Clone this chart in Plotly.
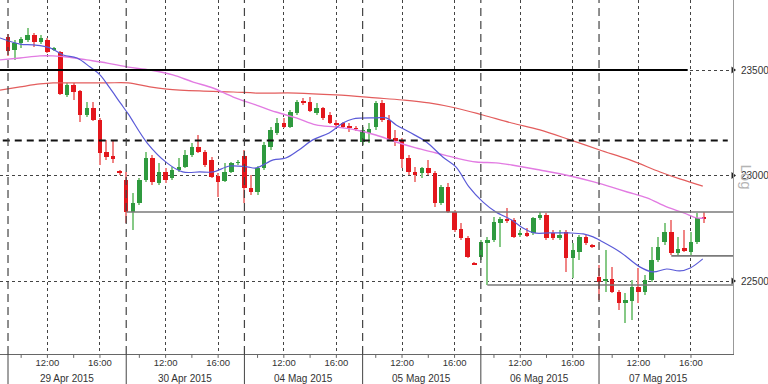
import plotly.graph_objects as go

# ---------------- data ----------------
days = ["29 Apr 2015", "30 Apr 2015", "04 Mag 2015", "05 Mag 2015", "06 Mag 2015", "07 Mag 2015"]
bars_per_day = [18, 18, 18, 18, 18, 17]      # 30-minute bars from 09:00
slots_per_day = 18
time_labels = ["12:00", "16:00"]
time_slots = [6, 14]                          # slot of 12:00 and 16:00 inside a day

open_ = [
    23657, 23595, 23628, 23642, 23666, 23633, 23642, 23595, 23586, 23382, 23429, 23401, 23287, 23320, 23263, 23112, 23093, 23017,
    22979, 22827, 22870, 22979, 23083, 22965, 23017, 22988, 23026, 23041, 23097, 23135, 23112, 23074, 22998, 22974, 23017, 23060,
    23093, 22941, 22922, 23036, 23135, 23202, 23249, 23230, 23296, 23353, 23349, 23296, 23320, 23287, 23249, 23249, 23235, 23225,
    23159, 23202, 23230, 23344, 23263, 23178, 23169, 23083, 23017, 23012, 23036, 23012, 22870, 22946, 22827, 22747, 22704, 22585,
    22614, 22680, 22695, 22775, 22794, 22789, 22718, 22728, 22728, 22799, 22813, 22728, 22704, 22733, 22609, 22638, 22709, 22666,
    22519, 22500, 22510, 22448, 22396, 22406, 22472, 22448, 22505, 22600, 22685, 22733, 22633, 22657, 22638, 22685, 22804,
]
high = [
    23671, 23642, 23657, 23699, 23676, 23666, 23652, 23609, 23590, 23439, 23439, 23405, 23349, 23349, 23273, 23169, 23169, 23026,
    23017, 22917, 22988, 23112, 23097, 23060, 23036, 23041, 23083, 23121, 23154, 23192, 23121, 23088, 23012, 23060, 23064, 23074,
    23121, 23003, 23045, 23159, 23230, 23273, 23273, 23311, 23358, 23368, 23372, 23344, 23325, 23301, 23263, 23254, 23249, 23235,
    23230, 23249, 23353, 23358, 23287, 23216, 23178, 23097, 23041, 23041, 23074, 23022, 22955, 22965, 22837, 22775, 22714, 22590,
    22695, 22709, 22804, 22804, 22846, 22799, 22742, 22752, 22804, 22827, 22823, 22742, 22742, 22742, 22680, 22718, 22718, 22676,
    22576, 22647, 22567, 22458, 22443, 22505, 22562, 22529, 22662, 22709, 22775, 22789, 22709, 22742, 22733, 22823, 22827,
]
low = [
    23567, 23548, 23605, 23633, 23609, 23623, 23581, 23590, 23382, 23372, 23358, 23254, 23278, 23259, 23050, 23074, 23060, 23003,
    22775, 22742, 22860, 22969, 22955, 22955, 22965, 22979, 23017, 23036, 23088, 23107, 23041, 22988, 22898, 22969, 23012, 23050,
    22870, 22908, 22908, 23026, 23121, 23192, 23225, 23225, 23287, 23334, 23301, 23287, 23263, 23244, 23230, 23225, 23206, 23211,
    23145, 23154, 23216, 23254, 23164, 23140, 23036, 23003, 22969, 22988, 23003, 22851, 22860, 22823, 22733, 22695, 22609, 22575,
    22600, 22481, 22685, 22662, 22775, 22704, 22709, 22709, 22718, 22789, 22695, 22695, 22695, 22543, 22515, 22600, 22671, 22657,
    22410, 22448, 22443, 22363, 22301, 22315, 22396, 22434, 22496, 22590, 22671, 22624, 22624, 22638, 22624, 22676, 22775,
]
close = [
    23590, 23628, 23647, 23666, 23633, 23652, 23586, 23600, 23387, 23429, 23396, 23287, 23320, 23263, 23107, 23088, 23078, 23012,
    22827, 22870, 22979, 23083, 22969, 23017, 22979, 23026, 23041, 23097, 23135, 23112, 23050, 22993, 22969, 23017, 23060, 23064,
    22941, 22922, 23036, 23145, 23216, 23249, 23230, 23301, 23349, 23344, 23306, 23320, 23273, 23249, 23240, 23230, 23225, 23221,
    23216, 23221, 23344, 23263, 23173, 23164, 23078, 23017, 23003, 23036, 23012, 22870, 22946, 22827, 22742, 22704, 22614, 22580,
    22685, 22695, 22780, 22794, 22785, 22709, 22728, 22714, 22799, 22813, 22704, 22704, 22718, 22609, 22647, 22709, 22680, 22662,
    22496, 22510, 22448, 22396, 22410, 22472, 22448, 22505, 22600, 22662, 22733, 22633, 22652, 22643, 22685, 22799, 22794,
]

# moving averages, read at sample points (x in bar-slot units)
ma_fast_x = [-1.22, 1.83, 3.81, 6.4, 8.4, 10.5, 12.5, 14.0, 15.5, 17.1, 18.3, 21.2, 24.2, 26.6, 29.2, 31.2, 33.8, 36.4, 37.8,
             40.4, 42.3, 44.3, 46.4, 48.9, 51.0, 52.5, 56.0, 57.6, 59.1, 61.1, 63.7, 66.2, 68.2, 70.2, 72.3, 74.3, 76.7,
             78.4, 80.1, 82.4, 85.4, 87.6, 89.1, 90.0, 93.2, 96.2, 98.2, 100.3, 102.3, 103.9, 105.8]
ma_fast_y = [23652, 23623, 23619, 23605, 23571, 23557, 23514, 23477, 23415, 23344, 23292, 23154, 23060, 23017, 23017, 23017, 23045, 23041, 23036,
             23074, 23083, 23121, 23169, 23202, 23249, 23268, 23273, 23273, 23240, 23206, 23159, 23088, 23041, 22946, 22875, 22827, 22789,
             22751, 22728, 22728, 22728, 22723, 22709, 22695, 22638, 22567, 22543, 22557, 22548, 22562, 22605]
ma_mid_x = [-1.22, 1.83, 4.87, 6.85, 9.0, 12.0, 15.1, 18.3, 21.6, 25.1, 28.2, 31.2, 34.3, 37.8, 40.8, 43.9, 46.9, 49.9, 53.0,
            56.0, 59.1, 62.1, 65.2, 68.2, 71.3, 74.3, 76.7, 81.0, 85.6, 89.2, 91.8, 94.3, 97.3, 100.3, 102.9, 104.9, 106.0]
ma_mid_y = [23548, 23557, 23567, 23567, 23562, 23548, 23533, 23514, 23500, 23477, 23443, 23415, 23372, 23334, 23301, 23273, 23240, 23230, 23216,
            23192, 23159, 23131, 23107, 23083, 23064, 23060, 23050, 23026, 22998, 22970, 22946, 22922, 22894, 22851, 22823, 22799, 22799]
ma_slow_x = [-1.22, 1.83, 4.87, 6.85, 11.0, 15.1, 18.3, 21.6, 24.2, 29.2, 34.3, 37.8, 43.9, 49.9, 56.0, 60.1, 64.1, 68.2,
             72.3, 76.7, 81.0, 85.6, 90.1, 94.7, 99.3, 102.3, 105.8]
ma_slow_y = [23405, 23420, 23434, 23439, 23439, 23439, 23439, 23420, 23410, 23401, 23396, 23391, 23391, 23382, 23368, 23358, 23344, 23320,
             23287, 23249, 23216, 23169, 23121, 23074, 23017, 22984, 22950]

level_solid = 23500
level_dashed = 23166
support_levels = [22827, 22619, 22481]
support_start = [18, 101, 73]           # bar slot where each line starts
y_ticks = [22500, 23000, 23500]

x_range = [-1.22, 110.4]
y_range = [22154, 23832]

# ---------------- build ----------------
x = []
for d, cnt in enumerate(bars_per_day):
    for k in range(cnt):
        x.append(d * slots_per_day + k)

up = [c >= o for o, c in zip(open_, close)]
body_col = ["#2f9a3f" if u else "#e3161c" for u in up]
wick_col = ["#86c986" if u else "#f08585" for u in up]

fig = go.Figure()
fig.add_trace(go.Bar(x=x, y=[h - l for h, l in zip(high, low)], base=low, width=0.17,
                     marker=dict(color=wick_col, line=dict(width=0)), hoverinfo="skip"))
fig.add_trace(go.Bar(x=x, y=[max(abs(c - o), 4) for o, c in zip(open_, close)],
                     base=[min(o, c) for o, c in zip(open_, close)], width=0.68,
                     marker=dict(color=body_col, line=dict(width=0)), hoverinfo="skip"))

fig.add_trace(go.Scatter(x=ma_slow_x, y=ma_slow_y, mode="lines", line=dict(color="#e35d5d", width=1.2, shape="spline")))
fig.add_trace(go.Scatter(x=ma_mid_x, y=ma_mid_y, mode="lines", line=dict(color="#e27be2", width=1.4, shape="spline")))
fig.add_trace(go.Scatter(x=ma_fast_x, y=ma_fast_y, mode="lines", line=dict(color="#5a5ad8", width=1.2, shape="spline")))

# right-axis arrow markers
fig.add_trace(go.Scatter(x=[x_range[1]] * len(y_ticks), y=y_ticks, mode="markers", cliponaxis=False,
                         marker=dict(symbol="triangle-right", size=6, color="#222")))

shapes = []
# horizontal levels
shapes.append(dict(type="line", xref="x", yref="y", x0=x_range[0], x1=103.5, y0=level_solid, y1=level_solid,
                   line=dict(color="#000", width=2)))
shapes.append(dict(type="line", xref="x", yref="y", x0=-0.8, x1=109.6, y0=level_dashed, y1=level_dashed,
                   line=dict(color="#111", width=2, dash="7px,5px")))
for lv, st in zip(support_levels, support_start):
    shapes.append(dict(type="line", xref="x", yref="y", x0=st, x1=x_range[1], y0=lv, y1=lv,
                       line=dict(color="#7a7a7a", width=1.6)))
# day separators
for d in range(len(days)):
    xd = d * slots_per_day
    shapes.append(dict(type="line", xref="x", yref="paper", x0=xd, x1=xd, y0=0, y1=1,
                       line=dict(color="#444", width=1.2, dash="8px,5px")))
    shapes.append(dict(type="line", xref="x", yref="paper", x0=xd, x1=xd, y0=0, y1=-0.09,
                       line=dict(color="#444", width=1)))
# small hour ticks on the time axis (every two hours)
for d in range(len(days)):
    for s in (2, 6, 10, 14):
        xs = d * slots_per_day + s
        shapes.append(dict(type="line", xref="x", yref="paper", x0=xs, x1=xs, y0=0, y1=-0.011,
                           line=dict(color="#666", width=1)))

annotations = []
for d, name in enumerate(days):
    annotations.append(dict(x=d * slots_per_day + slots_per_day / 2, y=0, xref="x", yref="paper", yshift=-24,
                            yanchor="middle", text=name, showarrow=False,
                            font=dict(size=10, color="#333", family="Liberation Sans")))
annotations.append(dict(x=1, y=0.5, xref="paper", yref="paper", xshift=24, text="Log", textangle=90,
                        showarrow=False, font=dict(size=15, color="#b4b4b4", family="Liberation Sans")))

tickvals, ticktext = [], []
for d in range(len(days)):
    for lab, s in zip(time_labels, time_slots):
        tickvals.append(d * slots_per_day + s)
        ticktext.append(lab)

fig.update_layout(
    width=768, height=384,
    margin=dict(l=0, r=35, t=0, b=30),
    paper_bgcolor="white", plot_bgcolor="white",
    barmode="overlay", bargap=0, showlegend=False,
    shapes=shapes, annotations=annotations,
    font=dict(family="Liberation Sans", size=10, color="#333"),
    xaxis=dict(range=x_range, tickvals=tickvals, ticktext=ticktext, showgrid=True, gridcolor="#444",
               griddash="dot", gridwidth=1, zeroline=False, showline=True, linecolor="#666", linewidth=1,
               ticks="", tickfont=dict(size=9.5, color="#333")),
    yaxis=dict(range=y_range, side="right", tickvals=y_ticks, ticktext=[str(v) for v in y_ticks],
               showgrid=True, gridcolor="#444", griddash="dot", gridwidth=1, zeroline=False,
               showline=True, linecolor="#999", linewidth=1, ticks="outside", ticklen=5,
               tickcolor="rgba(0,0,0,0)", tickfont=dict(size=10, color="#333")),
)

fig.write_html("out.html")
